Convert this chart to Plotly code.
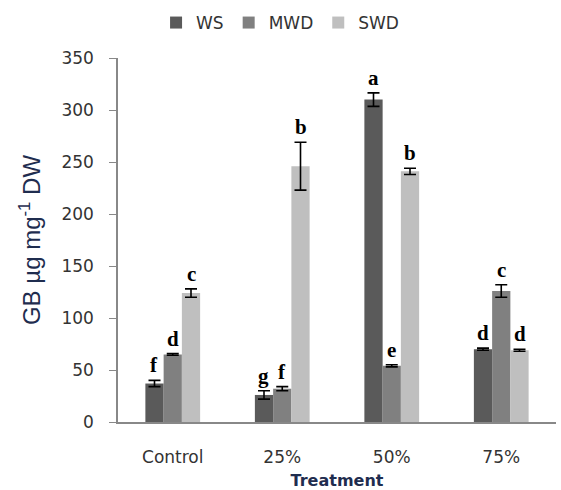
import plotly.graph_objects as go

treatments = ["Control", "25%", "50%", "75%"]
series_names = ["WS", "MWD", "SWD"]
ws = [37, 26, 310, 70]
mwd = [65, 32, 54, 126]
swd = [124, 246, 241, 69]
ws_err = [3, 4, 6.5, 1]
mwd_err = [0.8, 2, 1, 6]
swd_err = [4, 23, 3, 1]
ws_letters = ["f", "g", "a", "d"]
mwd_letters = ["d", "f", "e", "c"]
swd_letters = ["c", "b", "b", "d"]
colors = ["#5a5a5a", "#808080", "#bfbfbf"]

values = [ws, mwd, swd]
errors = [ws_err, mwd_err, swd_err]
letters = [ws_letters, mwd_letters, swd_letters]

fig = go.Figure()
for name, vals, errs, col in zip(series_names, values, errors, colors):
    fig.add_trace(go.Bar(
        name=name, x=treatments, y=vals, marker=dict(color=col, line=dict(width=0)),
        error_y=dict(type="data", array=errs, visible=True, color="black",
                     thickness=1.6, width=6),
    ))

# significance letters above each error bar
for i, (vals, errs, labs) in enumerate(zip(values, errors, letters)):
    for j, t in enumerate(treatments):
        fig.add_annotation(
            x=j + (i - 1) * 0.167, y=vals[j] + errs[j], xref="x", yref="y",
            text=f"<b>{labs[j]}</b>", showarrow=False, yanchor="bottom", yshift=1,
            font=dict(family="Liberation Serif", size=21, color="black"),
        )

fig.update_layout(
    width=561, height=490,
    margin=dict(l=118, r=5, t=58, b=68),
    paper_bgcolor="white", plot_bgcolor="white",
    barmode="group", bargap=0.5, bargroupgap=0,
    font=dict(family="DejaVu Sans", size=16, color="#333333"),
    legend=dict(orientation="h", x=0.37, xanchor="center", y=1 - 23 / 490, yref="container",
                yanchor="middle", font=dict(size=17, color="#333333"),
                itemwidth=30, traceorder="normal"),
    xaxis=dict(showline=True, linecolor="#888888", linewidth=1.5, ticks="", automargin=False,
               ticklabelstandoff=19, tickfont=dict(size=17, color="#333333"),
               title=dict(text="<b>Treatment</b>", font=dict(size=16, color="#1f2d4f"), standoff=13)),
    yaxis=dict(range=[0, 350], dtick=50, showline=True, linecolor="#888888", linewidth=1.5,
               ticks="outside", ticklen=7, tickcolor="#888888", showgrid=False, automargin=False,
               ticklabelstandoff=12, tickfont=dict(size=17, color="#333333"),
               title=dict(text="GB µg mg<sup>-1</sup> DW",
                          font=dict(family="Liberation Sans", size=24, color="#1f2d4f"),
                          standoff=14)),
)

fig.write_html("out.html")
